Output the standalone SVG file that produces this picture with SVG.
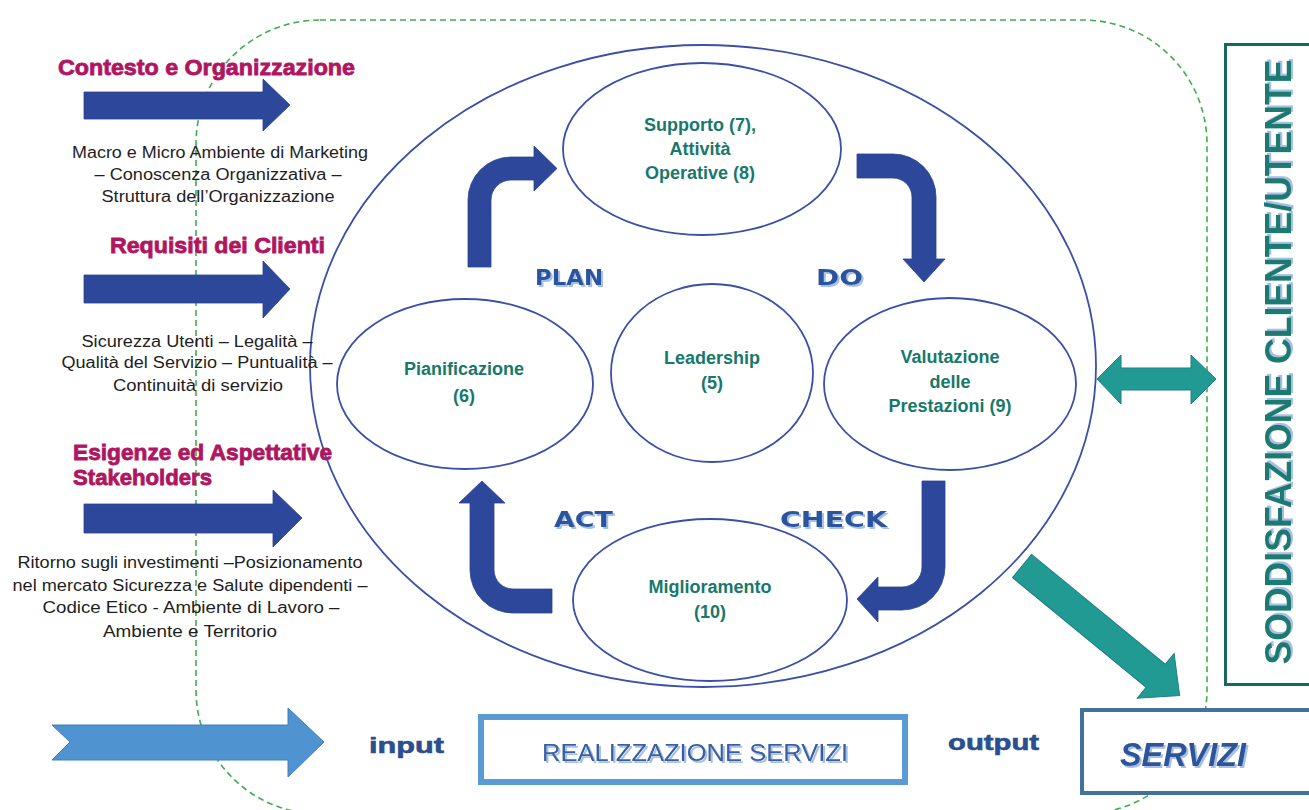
<svg xmlns="http://www.w3.org/2000/svg" width="1309" height="810" viewBox="0 0 1309 810">
<defs>
<filter id="sh" x="-10%" y="-20%" width="130%" height="160%"><feDropShadow dx="2" dy="2" stdDeviation="0.4" flood-color="#a6c0e6"/></filter>
<style>
.ell{fill:#fff;stroke:#3a4fa8;stroke-width:1.8}
.lbl{font-family:"Liberation Sans",Arial,sans-serif;font-weight:bold;font-size:18px;fill:#17786c;text-anchor:middle}
.desc{font-family:"Liberation Sans",Arial,sans-serif;font-size:16px;fill:#1e1e1e;text-anchor:middle}
.ttl{font-family:"Liberation Sans",Arial,sans-serif;font-weight:bold;font-size:22px;fill:#b0165f;stroke:#b0165f;stroke-width:0.8}
.pdca{font-family:"DejaVu Sans",sans-serif;font-weight:bold;font-size:22px;fill:#2c559e;filter:url(#sh)}
.barr{fill:#2d479b;stroke:#2a4290;stroke-width:0.8}
.tarr{fill:#229a94;stroke:#1f7f86;stroke-width:1}
</style>
</defs>
<rect width="1309" height="810" fill="#fff"/>

<g id="boundary">
<rect x="196" y="20" width="1011" height="794" rx="124" ry="124" fill="none" stroke="#3fae4e" stroke-width="1.6" stroke-dasharray="6 4"/>
</g>

<g id="system">
<ellipse cx="703" cy="366" rx="393" ry="321" fill="none" stroke="#3a4fa8" stroke-width="1.8"/>
</g>

<g id="node-supporto">
<ellipse class="ell" cx="702" cy="149" rx="139" ry="86"/>
<text class="lbl" x="700" y="131">Supporto (7),</text>
<text class="lbl" x="700" y="155">Attività</text>
<text class="lbl" x="700" y="179">Operative (8)</text>
</g>

<g id="node-pianificazione">
<ellipse class="ell" cx="465" cy="384" rx="128" ry="85"/>
<text class="lbl" x="464" y="375">Pianificazione</text>
<text class="lbl" x="464" y="402">(6)</text>
</g>

<g id="node-leadership">
<ellipse class="ell" cx="712" cy="373" rx="101" ry="89"/>
<text class="lbl" x="712" y="364">Leadership</text>
<text class="lbl" x="712" y="389">(5)</text>
</g>

<g id="node-valutazione">
<ellipse class="ell" cx="950" cy="384" rx="126" ry="86"/>
<text class="lbl" x="950" y="363">Valutazione</text>
<text class="lbl" x="950" y="388">delle</text>
<text class="lbl" x="950" y="412">Prestazioni (9)</text>
</g>

<g id="node-miglioramento">
<ellipse class="ell" cx="710" cy="600" rx="137" ry="81"/>
<text class="lbl" x="710" y="593">Miglioramento</text>
<text class="lbl" x="710" y="618">(10)</text>
</g>

<g id="pdca-labels">
<text class="pdca" x="535" y="285" textLength="68" lengthAdjust="spacingAndGlyphs">PLAN</text>
<text class="pdca" x="816" y="285" textLength="47" lengthAdjust="spacingAndGlyphs">DO</text>
<text class="pdca" x="554" y="527" textLength="59" lengthAdjust="spacingAndGlyphs">ACT</text>
<text class="pdca" x="780" y="527" textLength="107" lengthAdjust="spacingAndGlyphs">CHECK</text>
</g>

<g id="input-contesto">
<text class="ttl" x="58" y="75" textLength="297" lengthAdjust="spacingAndGlyphs">Contesto e Organizzazione</text>
<text class="desc" x="220" y="158" textLength="296" lengthAdjust="spacingAndGlyphs">Macro e Micro Ambiente di Marketing</text>
<text class="desc" x="218" y="180" textLength="247" lengthAdjust="spacingAndGlyphs">– Conoscenza Organizzativa –</text>
<text class="desc" x="218" y="202" textLength="233" lengthAdjust="spacingAndGlyphs">Struttura dell’Organizzazione</text>
</g>

<g id="input-requisiti">
<text class="ttl" x="110" y="253" textLength="215" lengthAdjust="spacingAndGlyphs">Requisiti dei Clienti</text>
<text class="desc" x="197" y="347" textLength="231" lengthAdjust="spacingAndGlyphs">Sicurezza Utenti – Legalità –</text>
<text class="desc" x="197" y="368" textLength="271" lengthAdjust="spacingAndGlyphs">Qualità del Servizio – Puntualità –</text>
<text class="desc" x="198" y="391" textLength="170" lengthAdjust="spacingAndGlyphs">Continuità di servizio</text>
</g>

<g id="input-esigenze">
<text class="ttl" x="73" y="460" textLength="259" lengthAdjust="spacingAndGlyphs">Esigenze ed Aspettative</text>
<text class="ttl" x="73" y="485" textLength="139" lengthAdjust="spacingAndGlyphs">Stakeholders</text>
<text class="desc" x="190" y="568" textLength="345" lengthAdjust="spacingAndGlyphs">Ritorno sugli investimenti –Posizionamento</text>
<text class="desc" x="190" y="591" textLength="355" lengthAdjust="spacingAndGlyphs">nel mercato Sicurezza e Salute dipendenti –</text>
<text class="desc" x="191" y="613" textLength="297" lengthAdjust="spacingAndGlyphs">Codice Etico -  Ambiente di Lavoro –</text>
<text class="desc" x="190" y="637" textLength="174" lengthAdjust="spacingAndGlyphs">Ambiente e Territorio</text>
</g>

<g id="soddisfazione">
<rect x="1225.5" y="44.5" width="120" height="640" fill="none" stroke="#17685f" stroke-width="3"/>
<text transform="translate(1291,362) rotate(-90)" x="0" y="0" text-anchor="middle" font-family="'Liberation Sans',Arial,sans-serif" font-weight="bold" font-size="37" fill="#1b7a70" filter="url(#sh)" textLength="605" lengthAdjust="spacingAndGlyphs">SODDISFAZIONE CLIENTE/UTENTE</text>
</g>

<g id="realizzazione">
<rect x="481" y="717" width="424" height="65" fill="#fff" stroke="#5b9bd5" stroke-width="6"/>
<text x="695" y="761" text-anchor="middle" font-family="'Liberation Sans',Arial,sans-serif" font-size="24" fill="#3a5f9e" filter="url(#sh)" textLength="306" lengthAdjust="spacingAndGlyphs">REALIZZAZIONE SERVIZI</text>
</g>

<g id="servizi">
<rect x="1082" y="710" width="300" height="83" fill="#fff" stroke="#41719c" stroke-width="4"/>
<text x="1120" y="766" font-family="'Liberation Sans',Arial,sans-serif" font-weight="bold" font-style="italic" font-size="34" fill="#2e5597" filter="url(#sh)" textLength="126" lengthAdjust="spacingAndGlyphs">SERVIZI</text>
</g>

<g id="io-labels">
<text x="369" y="753" font-family="'Liberation Sans',Arial,sans-serif" font-weight="bold" font-size="22" fill="#2b4f8e" stroke="#2b4f8e" stroke-width="0.6" textLength="75" lengthAdjust="spacingAndGlyphs">input</text>
<text x="948" y="750" font-family="'Liberation Sans',Arial,sans-serif" font-weight="bold" font-size="22" fill="#2b4f8e" stroke="#2b4f8e" stroke-width="0.6" textLength="91" lengthAdjust="spacingAndGlyphs">output</text>
</g>

<g id="connectors">
<polygon class="barr" points="84,92 263,92 263,79 290,105 263,131 263,119 84,119"/>
<polygon class="barr" points="84,275 263,275 263,261 290,289 263,318 263,303 84,303"/>
<polygon class="barr" points="84,504 273,504 273,490 302,518 273,547 273,533 84,533"/>
<path class="barr" d="M468,267 L468,200 A43,43 0 0 1 511,157 L534,157 L534,146 L557,168.5 L534,191 L534,180 L511,180 A20,20 0 0 0 491,200 L491,267 Z"/>
<path class="barr" d="M857,154 L893,154 A43,43 0 0 1 936,197 L936,259 L945,259 L924,282 L903,259 L912,259 L912,197 A19,19 0 0 0 893,178 L857,178 Z"/>
<path class="barr" d="M922,481 L945,481 L945,567 A43,43 0 0 1 902,610 L878,610 L878,622 L857,599 L878,577 L878,587 L902,587 A20,20 0 0 0 922,567 Z"/>
<path class="barr" d="M552,613 L513,613 A43,43 0 0 1 470,570 L470,503 L459,503 L482,481 L505,503 L494,503 L494,570 A19,19 0 0 0 513,589 L552,589 Z"/>
<path d="M52,725 L288,725 L288,708 L324,742 L288,777 L288,760 L52,760 L70,742 Z" fill="#4f93d0" stroke="#3f7fbd" stroke-width="1"/>
<path class="tarr" d="M1097,379 L1121,355 L1121,368 L1191,368 L1191,355 L1216,379 L1191,404 L1191,390 L1121,390 L1121,404 Z"/>
<polygon class="tarr" transform="translate(1022,566) rotate(39.4)" points="0,-15 173,-15 173,-29 204,0 173,29 173,15 0,15"/>
</g>
</svg>
